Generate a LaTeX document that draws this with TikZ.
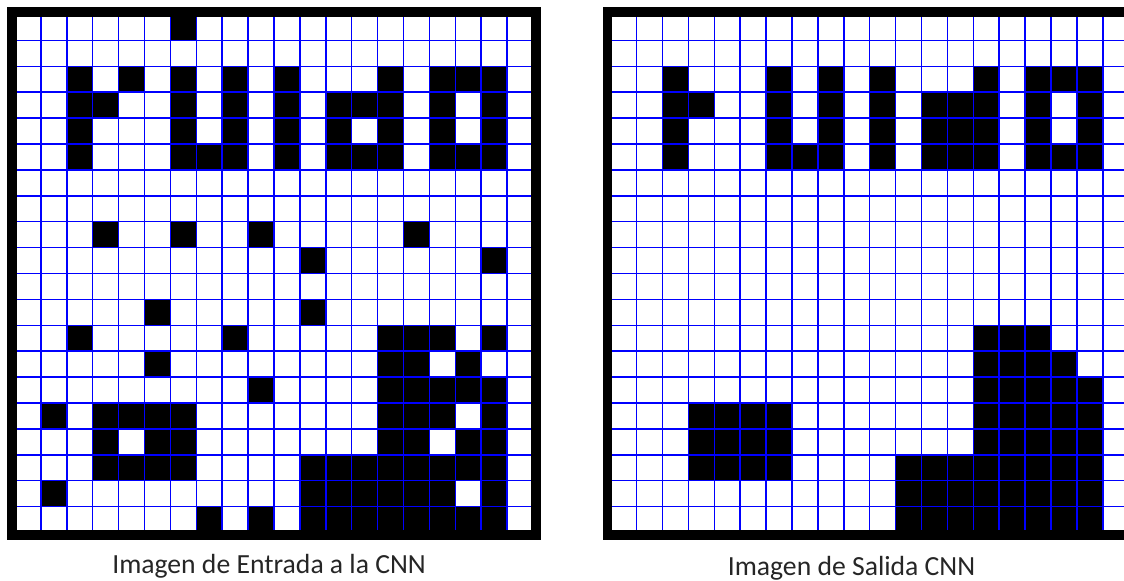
\documentclass[tikz,border=0pt]{standalone}
\usepackage{fontspec}
\setmainfont{Carlito}
\usepackage{tikz}

\tikzset{
  pixel/.style={fill=black},
  gridline/.style={blue, line width=0.85pt},
  frame/.style={draw=black, line width=5.2pt},
  caption/.style={anchor=base, font=\fontsize{15.2}{18}\selectfont, text=black!85}
}

\begin{document}
\begin{tikzpicture}[x=0.5cm, y=-0.5cm]
				\useasboundingbox (-0.579,-0.56) rectangle (42.82,21.87);
				\fill[white] (-0.579,-0.56) rectangle (42.82,21.87);
				\clip (-0.579,-0.56) rectangle (42.82,21.87);
				% Input image (with noise)
				\foreach \r/\cs in {0/{6}, 2/{2,4,6,8,10,14,16,17,18}, 3/{2,3,6,8,10,12,13,14,16,18},
						4/{2,6,8,10,12,14,16,18}, 5/{2,6,7,8,10,12,13,14,16,17,18},
						8/{3,6,9,15}, 9/{11,18}, 11/{5,11}, 12/{2,8,14,15,16,18}, 13/{5,14,15,17},
						14/{9,14,15,16,17,18}, 15/{1,3,4,5,6,14,15,16,18}, 16/{3,5,6,14,15,17,18},
						17/{3,4,5,6,11,12,13,14,15,16,17,18}, 18/{1,11,12,13,14,15,16,18},
						19/{7,9,11,12,13,14,15,16,17,18}}
					\foreach \c in \cs
						\fill[pixel] (\c,\r) rectangle ++(1,1);
				% Grid
				\foreach \i in {1,...,19} {
					\draw[gridline] (\i,0) -- (\i,20);
					\draw[gridline] (0,\i) -- (20,\i);
				}
				% Frame
				\draw[frame] (-0.12,-0.1) rectangle (20.12,20.1);
				\node[caption] (inlabel) at (9.81,21.60) {Imagen de Entrada a la CNN};
				% Output image (cleaned)
				\begin{scope}[shift={(23,0)}]
					\foreach \r/\cs in {2/{2,6,8,10,14,16,17,18}, 3/{2,3,6,8,10,12,13,14,16,18},
							4/{2,6,8,10,12,13,14,16,18}, 5/{2,6,7,8,10,12,13,14,16,17,18},
							12/{14,15,16}, 13/{14,15,16,17}, 14/{14,...,18},
							15/{3,4,5,6,14,15,16,17,18}, 16/{3,4,5,6,14,15,16,17,18},
							17/{3,4,5,6,11,12,13,14,15,16,17,18}, 18/{11,...,18}, 19/{11,...,18}}
						\foreach \c in \cs
							\fill[pixel] (\c,\r) rectangle ++(1,1);
					% Grid
					\foreach \i in {1,...,19} {
						\draw[gridline] (\i,0) -- (\i,20);
						\draw[gridline] (0,\i) -- (20,\i);
					}
					% Frame
					\draw[frame] (-0.12,-0.1) rectangle (20.12,20.1);
				\end{scope}
				\node[caption] (outlabel) at (32.3,21.66) {Imagen de Salida CNN};
			\end{tikzpicture}
\end{document}
